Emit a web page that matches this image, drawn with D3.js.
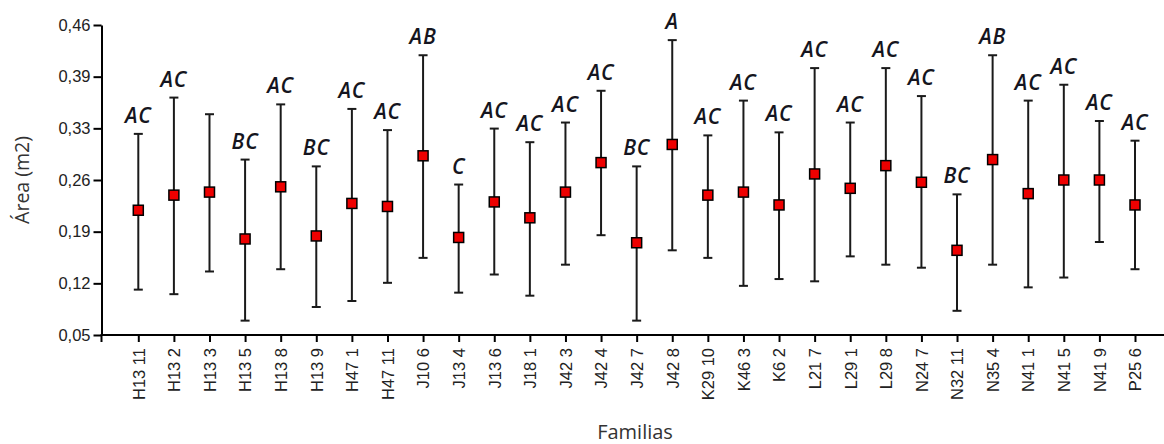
<!DOCTYPE html>
<html>
<head>
<meta charset="utf-8">
<script src="https://cdn.jsdelivr.net/npm/d3@7"></script>
<style>
  html, body { margin: 0; padding: 0; background: #fff; }
  svg { display: block; }
</style>
</head>
<body>
<svg id="chart" width="1164" height="444"></svg>
<script>
const categories = ["H13 11","H13 2","H13 3","H13 5","H13 8","H13 9","H47 1","H47 11","J10 6","J13 4","J13 6","J18 1","J42 3","J42 4","J42 7","J42 8","K29 10","K46 3","K6 2","L21 7","L29 1","L29 8","N24 7","N32 11","N35 4","N41 1","N41 5","N41 9","P25 6"];
const meanValues  = [0.215,0.235,0.239,0.177,0.246,0.181,0.224,0.220,0.287,0.179,0.226,0.205,0.239,0.278,0.172,0.302,0.235,0.239,0.222,0.263,0.244,0.274,0.252,0.162,0.282,0.237,0.255,0.255,0.222];
const upperValues = [0.316,0.364,0.342,0.282,0.355,0.273,0.349,0.321,0.420,0.249,0.323,0.305,0.331,0.373,0.273,0.440,0.314,0.360,0.318,0.403,0.331,0.403,0.366,0.236,0.420,0.360,0.381,0.333,0.307];
const lowerValues = [0.110,0.104,0.134,0.069,0.137,0.087,0.095,0.119,0.152,0.106,0.130,0.102,0.143,0.182,0.069,0.162,0.152,0.115,0.124,0.121,0.154,0.143,0.139,0.082,0.143,0.113,0.126,0.173,0.137];
const groupLabels = ["AC","AC","","BC","AC","BC","AC","AC","AB","C","AC","AC","AC","AC","BC","A","AC","AC","AC","AC","AC","AC","AC","BC","AB","AC","AC","AC","AC"];
const yTickLabels = ["0,05","0,12","0,19","0,26","0,33","0,39","0,46"];
const yDomain = [0.05, 0.46];

const svg = d3.select("#chart");
const axisLeftX = 101.5, axisBottomY = 335, plotTop = 25, plotRight = 1164;

const y = d3.scaleLinear().domain(yDomain).range([axisBottomY, plotTop]);
const x = d3.scalePoint().domain(categories).range([138.3, 1135]);

const yTickVals = yTickLabels.map((_, i) => yDomain[0] + i * (yDomain[1] - yDomain[0]) / (yTickLabels.length - 1));

// Y axis
const yAxis = d3.axisLeft(y).tickValues(yTickVals).tickSize(8).tickSizeOuter(0).tickPadding(3)
  .tickFormat((d, i) => yTickLabels[i]);
const gy = svg.append("g").attr("transform", `translate(${axisLeftX},0)`).call(yAxis);
gy.select(".domain").attr("stroke", "#000").attr("stroke-width", 2);
gy.selectAll(".tick line").attr("stroke", "#000").attr("stroke-width", 2);
gy.selectAll(".tick text").attr("font-family", "'Liberation Sans', Arial, sans-serif").attr("font-size", 16.5).attr("fill", "#222");

// X axis
const xAxis = d3.axisBottom(x).tickSize(7).tickSizeOuter(0).tickPadding(0);
const gx = svg.append("g").attr("transform", `translate(0,${axisBottomY})`).call(xAxis);
gx.select(".domain").remove();
gx.append("line").attr("x1", axisLeftX - 1).attr("x2", plotRight).attr("y1", 0).attr("y2", 0)
  .attr("stroke", "#000").attr("stroke-width", 2);
gx.append("line").attr("x1", axisLeftX).attr("x2", axisLeftX).attr("y1", 0).attr("y2", 7)
  .attr("stroke", "#000").attr("stroke-width", 2);
gx.selectAll(".tick line").attr("stroke", "#000").attr("stroke-width", 2);
gx.selectAll(".tick text")
  .attr("font-family", "'Liberation Sans', Arial, sans-serif").attr("font-size", 16.5).attr("fill", "#222")
  .attr("transform", "rotate(-90)")
  .attr("text-anchor", "end")
  .attr("dy", "0.35em")
  .attr("x", -13)
  .attr("y", 0);

// Axis titles
svg.append("text")
  .attr("transform", `translate(29,${(plotTop + axisBottomY) / 2}) rotate(-90)`)
  .attr("text-anchor", "middle")
  .attr("font-family", "'Open Sans', sans-serif").attr("font-size", 19.5).attr("fill", "#333")
  .text("Área (m2)");
svg.append("text")
  .attr("x", 635).attr("y", 439)
  .attr("text-anchor", "middle")
  .attr("font-family", "'Open Sans', sans-serif").attr("font-size", 20).attr("fill", "#333")
  .text("Familias");

// Error bars
const bars = svg.append("g");
categories.forEach((c, i) => {
  const cx = x(c);
  const g = bars.append("g");
  g.append("line").attr("x1", cx).attr("x2", cx).attr("y1", y(upperValues[i])).attr("y2", y(lowerValues[i]))
    .attr("stroke", "#1a1a1a").attr("stroke-width", 2);
  [upperValues[i], lowerValues[i]].forEach(v => {
    g.append("line").attr("x1", cx - 4.5).attr("x2", cx + 4.5).attr("y1", y(v)).attr("y2", y(v))
      .attr("stroke", "#1a1a1a").attr("stroke-width", 2);
  });
  g.append("rect").attr("x", cx - 5).attr("y", y(meanValues[i]) - 5).attr("width", 10).attr("height", 10)
    .attr("fill", "#ee0000").attr("stroke", "#000").attr("stroke-width", 1.5);
  if (groupLabels[i]) {
    g.append("text").attr("x", cx).attr("y", y(upperValues[i]) - 11)
      .attr("text-anchor", "middle")
      .attr("font-family", "'Open Sans', sans-serif").attr("font-weight", 600).attr("font-style", "italic")
      .attr("font-size", 21).attr("letter-spacing", 0.8).attr("fill", "#151520")
      .text(groupLabels[i]);
  }
});
</script>
</body>
</html>
